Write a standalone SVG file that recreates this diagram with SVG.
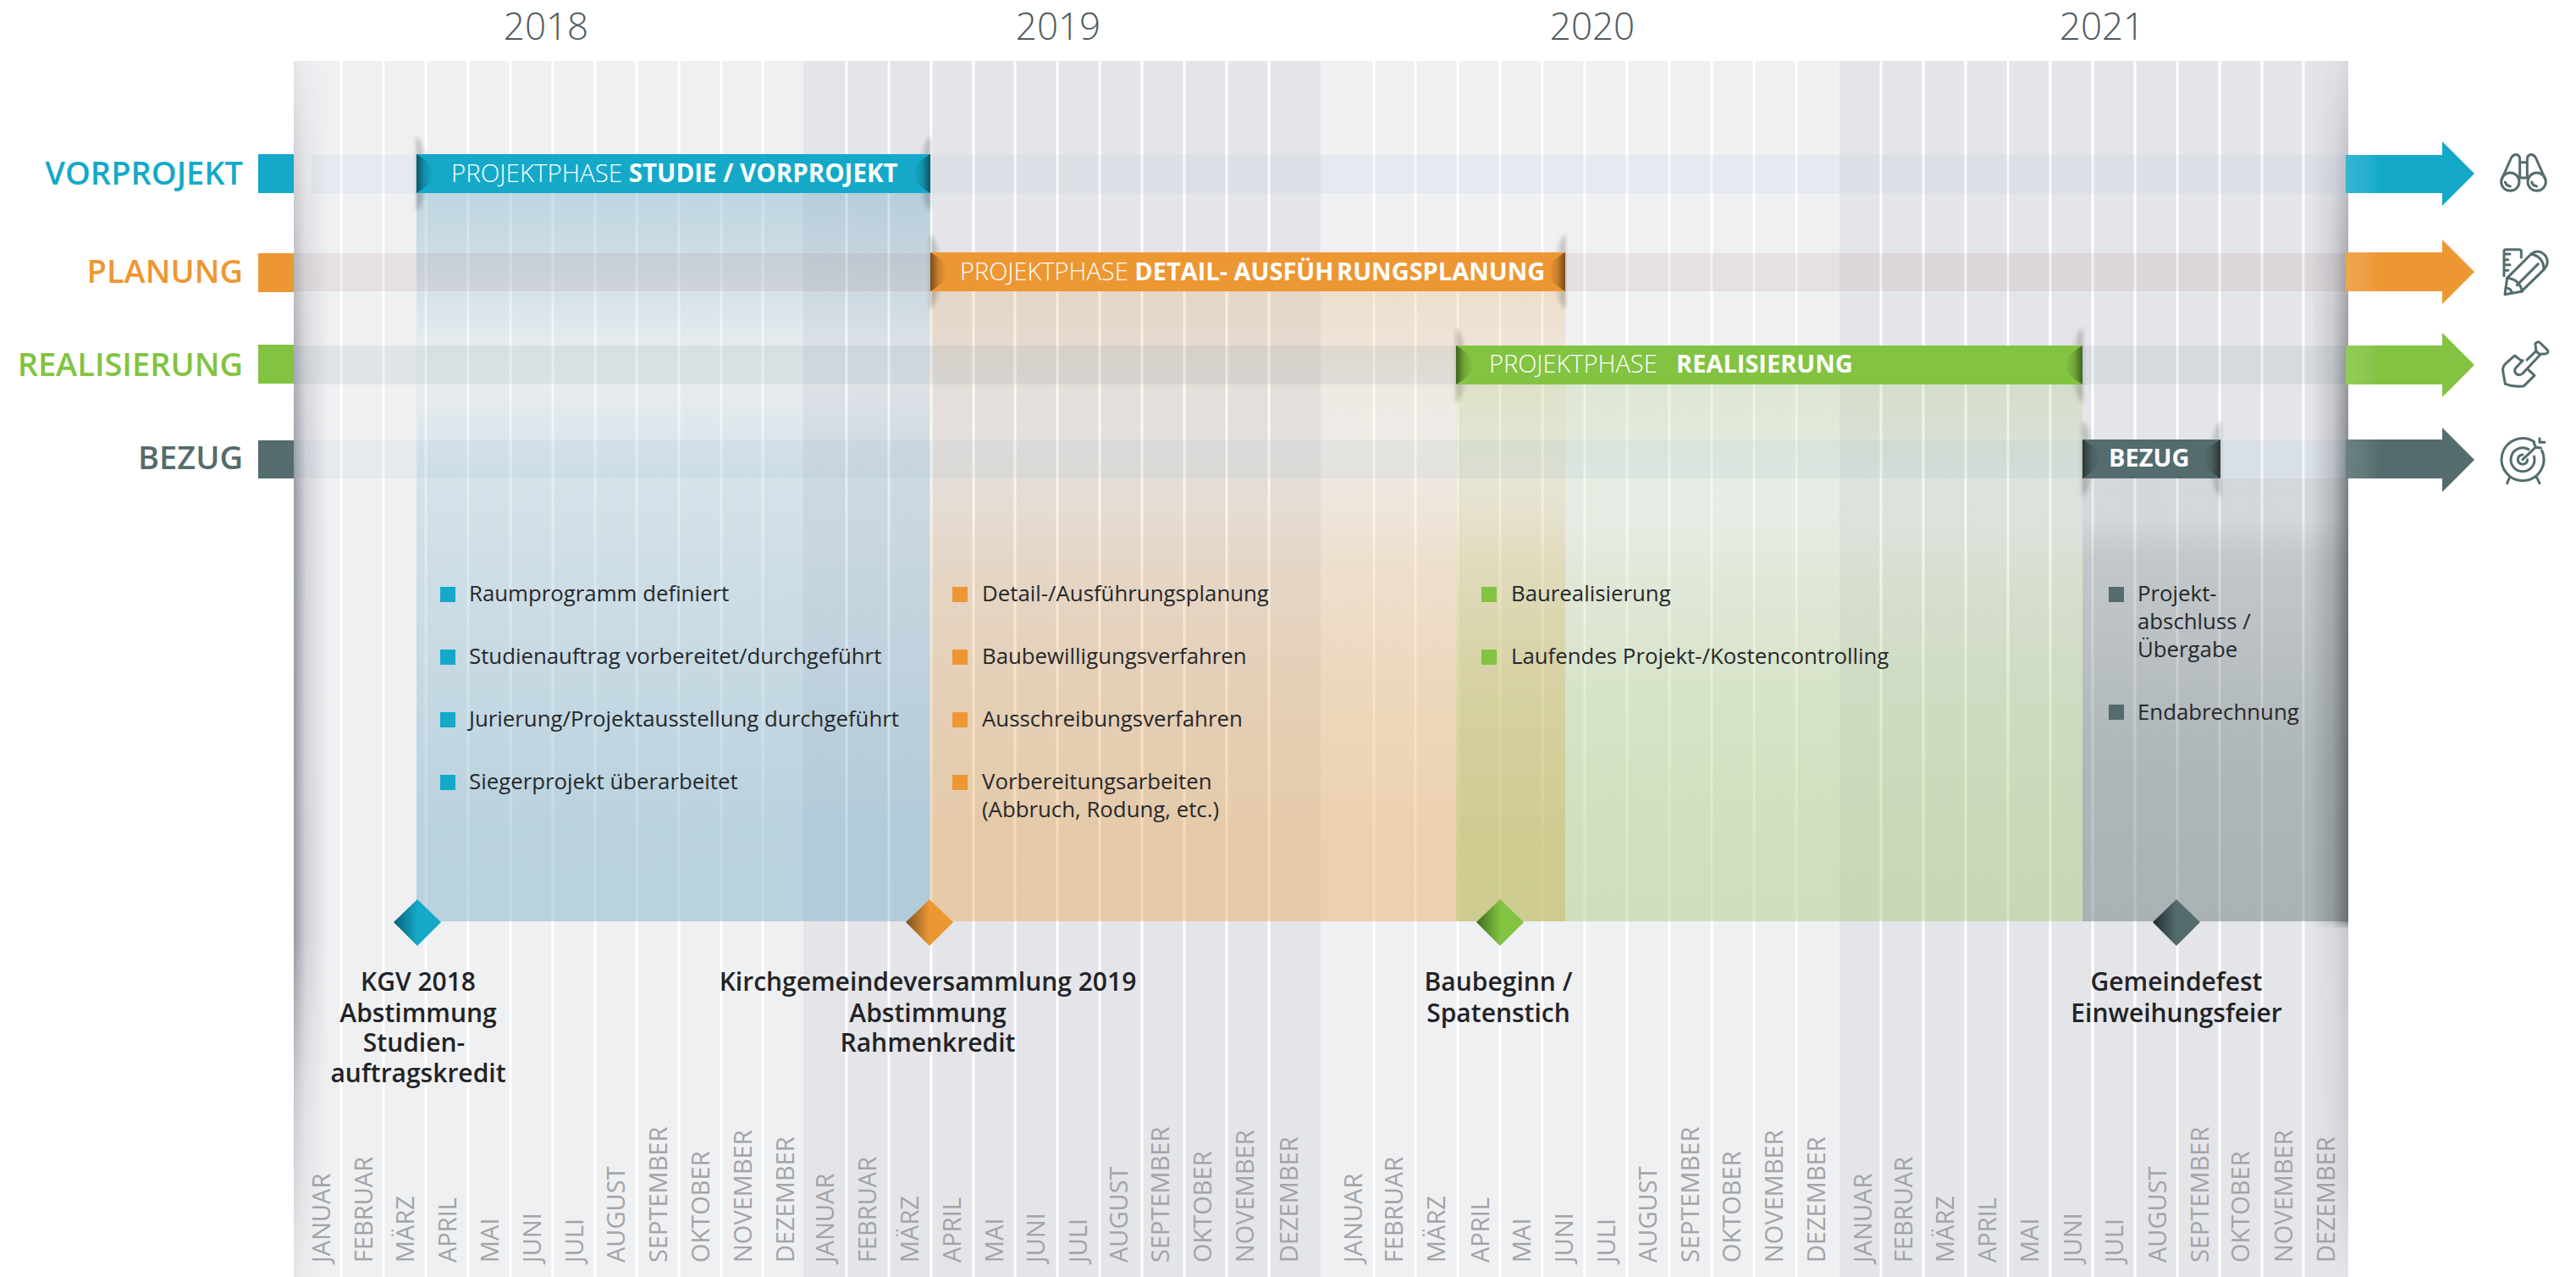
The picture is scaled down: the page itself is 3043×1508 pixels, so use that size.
<svg xmlns="http://www.w3.org/2000/svg" width="3043" height="1508" viewBox="0 0 3043 1508">
<style>
text{font-family:"Open Sans","Noto Sans","Liberation Sans",sans-serif}
.year{font-size:44px;font-weight:300;fill:#505b5e;text-anchor:middle}
.rl{font-size:38px;font-weight:600;text-anchor:end}
.bt{font-size:29px;font-weight:300;fill:#fff}
.bt tspan{font-weight:700}
.li{font-size:25.8px;fill:#26282b}
.ms{font-size:30px;font-weight:600;fill:#222326;text-anchor:middle}
.mo{font-size:29px;fill:#a3a4a8}
.gl{stroke:#fff;stroke-width:3;fill:none}
.ic{fill:none;stroke:#546c6d;stroke-width:9;stroke-linecap:round;stroke-linejoin:round}
.blue{fill:#14a9c9}.orange{fill:#ed9733}.green{fill:#82c341}.dark{fill:#546c6d}
.so{filter:url(#soft);opacity:.55}
</style>
<defs>
<filter id="soft" x="-100%" y="-20%" width="300%" height="140%"><feGaussianBlur stdDeviation="2.500"/></filter>
<linearGradient id="aBlue" gradientUnits="userSpaceOnUse" x1="0" y1="228" x2="0" y2="1088">
<stop offset="0" stop-color="#5fa0bd" stop-opacity=".33"/><stop offset=".08" stop-color="#5fa0bd" stop-opacity=".25"/><stop offset=".14" stop-color="#5fa0bd" stop-opacity=".17"/><stop offset=".2" stop-color="#5fa0bd" stop-opacity=".08"/><stop offset=".26" stop-color="#5fa0bd" stop-opacity=".05"/><stop offset=".34" stop-color="#5fa0bd" stop-opacity=".13"/><stop offset=".42" stop-color="#5fa0bd" stop-opacity=".19"/><stop offset=".5" stop-color="#5fa0bd" stop-opacity=".22"/><stop offset=".87" stop-color="#5fa0bd" stop-opacity=".37"/><stop offset="1" stop-color="#5fa0bd" stop-opacity=".38"/>
</linearGradient>
<linearGradient id="aOrange" gradientUnits="userSpaceOnUse" x1="0" y1="344" x2="0" y2="1088">
<stop offset="0" stop-color="#e79b3a" stop-opacity=".2"/><stop offset=".08" stop-color="#e79b3a" stop-opacity=".15"/><stop offset=".16" stop-color="#e79b3a" stop-opacity=".08"/><stop offset=".22" stop-color="#e79b3a" stop-opacity=".07"/><stop offset=".3" stop-color="#e79b3a" stop-opacity=".1"/><stop offset=".35" stop-color="#e79b3a" stop-opacity=".13"/><stop offset=".42" stop-color="#e79b3a" stop-opacity=".19"/><stop offset=".61" stop-color="#e79b3a" stop-opacity=".28"/><stop offset=".88" stop-color="#e79b3a" stop-opacity=".37"/><stop offset="1" stop-color="#e79b3a" stop-opacity=".37"/>
</linearGradient>
<linearGradient id="aGreen" gradientUnits="userSpaceOnUse" x1="0" y1="454" x2="0" y2="1088">
<stop offset="0" stop-color="#99c25d" stop-opacity=".2"/><stop offset=".1" stop-color="#99c25d" stop-opacity=".15"/><stop offset=".175" stop-color="#99c25d" stop-opacity=".1"/><stop offset=".26" stop-color="#99c25d" stop-opacity=".1"/><stop offset=".37" stop-color="#99c25d" stop-opacity=".18"/><stop offset=".55" stop-color="#99c25d" stop-opacity=".27"/><stop offset=".86" stop-color="#99c25d" stop-opacity=".36"/><stop offset="1" stop-color="#99c25d" stop-opacity=".37"/>
</linearGradient>
<linearGradient id="aDark" gradientUnits="userSpaceOnUse" x1="0" y1="565" x2="0" y2="1088">
<stop offset="0" stop-color="#5c6e70" stop-opacity=".12"/><stop offset=".09" stop-color="#5c6e70" stop-opacity=".12"/><stop offset=".18" stop-color="#5c6e70" stop-opacity=".25"/><stop offset=".64" stop-color="#5c6e70" stop-opacity=".39"/><stop offset="1" stop-color="#5c6e70" stop-opacity=".43"/>
</linearGradient>
<linearGradient id="shL"><stop offset="0" stop-color="#3c4150" stop-opacity=".5"/><stop offset=".35" stop-color="#3c4150" stop-opacity=".18"/><stop offset="1" stop-color="#3c4150" stop-opacity="0"/></linearGradient>
<linearGradient id="shR"><stop offset="0" stop-color="#30343a" stop-opacity="0"/><stop offset=".6" stop-color="#30343a" stop-opacity=".2"/><stop offset="1" stop-color="#30343a" stop-opacity=".55"/></linearGradient>
<linearGradient id="vL" gradientUnits="userSpaceOnUse" x1="0" y1="72" x2="0" y2="1508"><stop offset="0" stop-color="#fff" stop-opacity=".1"/><stop offset=".1" stop-color="#fff" stop-opacity=".4"/><stop offset=".35" stop-color="#fff" stop-opacity=".95"/><stop offset=".72" stop-color="#fff" stop-opacity="1"/><stop offset=".85" stop-color="#fff" stop-opacity=".45"/><stop offset="1" stop-color="#fff" stop-opacity=".1"/></linearGradient>
<linearGradient id="vR" gradientUnits="userSpaceOnUse" x1="0" y1="72" x2="0" y2="1508"><stop offset="0" stop-color="#fff" stop-opacity=".1"/><stop offset=".16" stop-color="#fff" stop-opacity=".6"/><stop offset=".36" stop-color="#fff" stop-opacity="1"/><stop offset=".708" stop-color="#fff" stop-opacity="1"/><stop offset=".714" stop-color="#fff" stop-opacity=".3"/><stop offset=".92" stop-color="#fff" stop-opacity=".2"/><stop offset="1" stop-color="#fff" stop-opacity="0"/></linearGradient>
<mask id="mL" maskUnits="userSpaceOnUse" x="340" y="60" width="60" height="1448"><rect x="340" y="60" width="60" height="1448" fill="url(#vL)"/></mask>
<mask id="mR" maskUnits="userSpaceOnUse" x="2720" y="60" width="60" height="1448"><rect x="2720" y="60" width="60" height="1448" fill="url(#vR)"/></mask>
<linearGradient id="lensL"><stop offset="0" stop-color="#000" stop-opacity=".5"/><stop offset=".5" stop-color="#000" stop-opacity=".14"/><stop offset="1" stop-color="#000" stop-opacity="0"/></linearGradient>
<linearGradient id="lensR"><stop offset="0" stop-color="#000" stop-opacity="0"/><stop offset=".5" stop-color="#000" stop-opacity=".14"/><stop offset="1" stop-color="#000" stop-opacity=".5"/></linearGradient>
<linearGradient id="sheen"><stop offset="0" stop-color="#fff" stop-opacity=".14"/><stop offset=".6" stop-color="#fff" stop-opacity=".08"/><stop offset="1" stop-color="#fff" stop-opacity="0"/></linearGradient>
<linearGradient id="dBlue"><stop offset="0" stop-color="#075f74"/><stop offset=".5" stop-color="#14a9c9"/></linearGradient>
<linearGradient id="dOrange"><stop offset="0" stop-color="#7d5120"/><stop offset=".5" stop-color="#ed9733"/></linearGradient>
<linearGradient id="dGreen"><stop offset="0" stop-color="#3a6a22"/><stop offset=".5" stop-color="#82c341"/></linearGradient>
<linearGradient id="dDark"><stop offset="0" stop-color="#1f2d30"/><stop offset=".5" stop-color="#546c6d"/></linearGradient>
</defs>
<rect width="3043" height="1508" fill="#fff"/>
<g id="years">
<text class="year" x="645" y="47">2018</text><text class="year" x="1250" y="47">2019</text><text class="year" x="1881" y="47">2020</text><text class="year" x="2483" y="47">2021</text>
</g>
<g id="panel">
<rect x="347" y="72" width="602" height="1436" fill="#eff0f2"/>
<rect x="949" y="72" width="611" height="1436" fill="#e4e5e9"/>
<rect x="1560" y="72" width="613" height="1436" fill="#eff0f2"/>
<rect x="2173" y="72" width="601" height="1436" fill="#e4e5e9"/>
<path class="gl" d="M403,72V1508M453,72V1508M503,72V1508M553,72V1508M603,72V1508M653,72V1508M703,72V1508M752,72V1508M802,72V1508M852,72V1508M901,72V1508M1000,72V1508M1050,72V1508M1100,72V1508M1150,72V1508M1199,72V1508M1249,72V1508M1299,72V1508M1349,72V1508M1399,72V1508M1449,72V1508M1499,72V1508M1623,72V1508M1672,72V1508M1722,72V1508M1772,72V1508M1822,72V1508M1872,72V1508M1922,72V1508M1972,72V1508M2022,72V1508M2072,72V1508M2122,72V1508M2222,72V1508M2272,72V1508M2322,72V1508M2372,72V1508M2422,72V1508M2472,72V1508M2522,72V1508M2572,72V1508M2622,72V1508M2672,72V1508M2721,72V1508"/>
</g>
<g id="months">
<text class="mo" transform="translate(390,1491) rotate(-90)">JANUAR</text>
<text class="mo" transform="translate(440,1491) rotate(-90)">FEBRUAR</text>
<text class="mo" transform="translate(489,1491) rotate(-90)">MÄRZ</text>
<text class="mo" transform="translate(539,1491) rotate(-90)">APRIL</text>
<text class="mo" transform="translate(589,1491) rotate(-90)">MAI</text>
<text class="mo" transform="translate(639,1491) rotate(-90)">JUNI</text>
<text class="mo" transform="translate(689,1491) rotate(-90)">JULI</text>
<text class="mo" transform="translate(738,1491) rotate(-90)">AUGUST</text>
<text class="mo" transform="translate(788,1491) rotate(-90)">SEPTEMBER</text>
<text class="mo" transform="translate(838,1491) rotate(-90)">OKTOBER</text>
<text class="mo" transform="translate(888,1491) rotate(-90)">NOVEMBER</text>
<text class="mo" transform="translate(938,1491) rotate(-90)">DEZEMBER</text>
<text class="mo" transform="translate(985,1491) rotate(-90)">JANUAR</text>
<text class="mo" transform="translate(1035,1491) rotate(-90)">FEBRUAR</text>
<text class="mo" transform="translate(1085,1491) rotate(-90)">MÄRZ</text>
<text class="mo" transform="translate(1135,1491) rotate(-90)">APRIL</text>
<text class="mo" transform="translate(1185,1491) rotate(-90)">MAI</text>
<text class="mo" transform="translate(1234,1491) rotate(-90)">JUNI</text>
<text class="mo" transform="translate(1284,1491) rotate(-90)">JULI</text>
<text class="mo" transform="translate(1332,1491) rotate(-90)">AUGUST</text>
<text class="mo" transform="translate(1381,1491) rotate(-90)">SEPTEMBER</text>
<text class="mo" transform="translate(1431,1491) rotate(-90)">OKTOBER</text>
<text class="mo" transform="translate(1481,1491) rotate(-90)">NOVEMBER</text>
<text class="mo" transform="translate(1533,1491) rotate(-90)">DEZEMBER</text>
<text class="mo" transform="translate(1609,1491) rotate(-90)">JANUAR</text>
<text class="mo" transform="translate(1657,1491) rotate(-90)">FEBRUAR</text>
<text class="mo" transform="translate(1707,1491) rotate(-90)">MÄRZ</text>
<text class="mo" transform="translate(1759,1491) rotate(-90)">APRIL</text>
<text class="mo" transform="translate(1808,1491) rotate(-90)">MAI</text>
<text class="mo" transform="translate(1858,1491) rotate(-90)">JUNI</text>
<text class="mo" transform="translate(1908,1491) rotate(-90)">JULI</text>
<text class="mo" transform="translate(1957,1491) rotate(-90)">AUGUST</text>
<text class="mo" transform="translate(2007,1491) rotate(-90)">SEPTEMBER</text>
<text class="mo" transform="translate(2056,1491) rotate(-90)">OKTOBER</text>
<text class="mo" transform="translate(2106,1491) rotate(-90)">NOVEMBER</text>
<text class="mo" transform="translate(2156,1491) rotate(-90)">DEZEMBER</text>
<text class="mo" transform="translate(2211,1491) rotate(-90)">JANUAR</text>
<text class="mo" transform="translate(2259,1491) rotate(-90)">FEBRUAR</text>
<text class="mo" transform="translate(2308,1491) rotate(-90)">MÄRZ</text>
<text class="mo" transform="translate(2358,1491) rotate(-90)">APRIL</text>
<text class="mo" transform="translate(2408,1491) rotate(-90)">MAI</text>
<text class="mo" transform="translate(2459,1491) rotate(-90)">JUNI</text>
<text class="mo" transform="translate(2508,1491) rotate(-90)">JULI</text>
<text class="mo" transform="translate(2559,1491) rotate(-90)">AUGUST</text>
<text class="mo" transform="translate(2609,1491) rotate(-90)">SEPTEMBER</text>
<text class="mo" transform="translate(2657,1491) rotate(-90)">OKTOBER</text>
<text class="mo" transform="translate(2708,1491) rotate(-90)">NOVEMBER</text>
<text class="mo" transform="translate(2758,1491) rotate(-90)">DEZEMBER</text>
</g>
<g id="areas">
<rect x="492" y="228" width="607" height="860" fill="url(#aBlue)"/>
<rect x="1099" y="344" width="750" height="744" fill="url(#aOrange)"/>
<rect x="1720" y="454" width="740" height="634" fill="url(#aGreen)"/>
<rect x="2460" y="565" width="314" height="523" fill="url(#aDark)"/>
</g>
<g id="row-bands">
<rect x="368" y="183" width="2403" height="45" fill="#64a0c8" fill-opacity=".08"/>
<rect x="347" y="299" width="2424" height="45" fill="#94595d" fill-opacity=".1"/>
<rect x="347" y="408" width="2424" height="46" fill="#628185" fill-opacity=".1"/>
<rect x="347" y="520" width="2424" height="45" fill="#4e9fc1" fill-opacity=".07"/>
</g>
<g id="edge-shadows">
<rect x="347" y="72" width="40" height="1436" fill="url(#shL)" mask="url(#mL)"/>
<rect x="2730" y="72" width="44" height="1436" fill="url(#shR)" mask="url(#mR)"/>
</g>
<g id="connectors">
<g id="arrow-vorprojekt"><path class="blue" d="M2771,183H2885V167L2923,205L2885,243V228H2771Z"/><rect x="2771" y="183" width="40" height="45" fill="url(#sheen)"/></g>
<g id="arrow-planung"><path class="orange" d="M2771,298H2885V283L2923,321L2885,359V344H2771Z"/><rect x="2771" y="298" width="40" height="46" fill="url(#sheen)"/></g>
<g id="arrow-realisierung"><path class="green" d="M2771,408H2885V393L2923,431L2885,469V454H2771Z"/><rect x="2771" y="408" width="40" height="46" fill="url(#sheen)"/></g>
<g id="arrow-bezug"><path class="dark" d="M2771,519H2885V505L2923,543L2885,581V565H2771Z"/><rect x="2771" y="519" width="40" height="46" fill="url(#sheen)"/></g>
</g>
<g id="row-vorprojekt"><rect class="blue" x="305" y="182" width="42" height="46"/><text class="rl" x="287" y="218" fill="#14a9c9">VORPROJEKT</text></g>
<g id="row-planung"><rect class="orange" x="305" y="299" width="42" height="46"/><text class="rl" x="287" y="334" fill="#ed9733">PLANUNG</text></g>
<g id="row-realisierung"><rect class="green" x="305" y="407" width="42" height="46"/><text class="rl" x="287" y="444" fill="#82c341">REALISIERUNG</text></g>
<g id="row-bezug"><rect class="dark" x="305" y="520" width="42" height="45"/><text class="rl" x="287" y="554" fill="#546c6d">BEZUG</text></g>
<g id="phase-studie">
<path class="so" d="M492,160Q524,205 492,250Z" fill="url(#lensL)"/><path class="so" d="M1099,160Q1067,205 1099,250Z" fill="url(#lensR)"/>
<rect class="blue" x="492" y="182" width="607" height="46"/>
<path d="M492,182Q532,205 492,228Z" fill="url(#lensL)"/><path d="M1099,182Q1059,205 1099,228Z" fill="url(#lensR)"/>
<text class="bt" x="533" y="215" style="font-size:29.500px">PROJEKTPHASE <tspan>STUDIE / VORPROJEKT</tspan></text>
</g>
<g id="phase-planung">
<path class="so" d="M1099,276Q1131,321 1099,366Z" fill="url(#lensL)"/><path class="so" d="M1849,276Q1817,321 1849,366Z" fill="url(#lensR)"/>
<rect class="orange" x="1099" y="298" width="750" height="46"/>
<path d="M1099,298Q1139,321 1099,344Z" fill="url(#lensL)"/><path d="M1849,298Q1809,321 1849,344Z" fill="url(#lensR)"/>
<text class="bt" x="1134" y="331">PROJEKTPHASE <tspan>DETAIL- </tspan><tspan style="word-spacing:-4px">AUSFÜH RUNGSPLANUNG</tspan></text>
</g>
<g id="phase-realisierung">
<path class="so" d="M1720,386Q1752,431 1720,476Z" fill="url(#lensL)"/><path class="so" d="M2460,386Q2428,431 2460,476Z" fill="url(#lensR)"/>
<rect class="green" x="1720" y="408" width="740" height="46"/>
<path d="M1720,408Q1760,431 1720,454Z" fill="url(#lensL)"/><path d="M2460,408Q2420,431 2460,454Z" fill="url(#lensR)"/>
<text class="bt" x="1759" y="440">PROJEKTPHASE <tspan x="1980">REALISIERUNG</tspan></text>
</g>
<g id="phase-bezug">
<path class="so" d="M2460,497Q2492,542 2460,587Z" fill="url(#lensL)"/><path class="so" d="M2623,497Q2591,542 2623,587Z" fill="url(#lensR)"/>
<rect class="dark" x="2460" y="519" width="163" height="46"/>
<path d="M2460,519Q2500,542 2460,565Z" fill="url(#lensL)"/><path d="M2623,519Q2583,542 2623,565Z" fill="url(#lensR)"/>
<text class="bt" x="2491" y="551"><tspan>BEZUG</tspan></text>
</g>
<g id="list-vorprojekt">
<rect class="blue" x="520" y="693" width="18" height="18"/><text class="li" x="554" y="710">Raumprogramm definiert</text>
<rect class="blue" x="520" y="767" width="18" height="18"/><text class="li" x="554" y="784">Studienauftrag vorbereitet/durchgeführt</text>
<rect class="blue" x="520" y="841" width="18" height="18"/><text class="li" x="554" y="858">Jurierung/Projektausstellung durchgeführt</text>
<rect class="blue" x="520" y="915" width="18" height="18"/><text class="li" x="554" y="932">Siegerprojekt überarbeitet</text>
</g>
<g id="list-planung">
<rect class="orange" x="1125" y="693" width="18" height="18"/><text class="li" x="1160" y="710">Detail-/Ausführungsplanung</text>
<rect class="orange" x="1125" y="767" width="18" height="18"/><text class="li" x="1160" y="784">Baubewilligungsverfahren</text>
<rect class="orange" x="1125" y="841" width="18" height="18"/><text class="li" x="1160" y="858">Ausschreibungsverfahren</text>
<rect class="orange" x="1125" y="915" width="18" height="18"/><text class="li" x="1160" y="932">Vorbereitungsarbeiten</text><text class="li" x="1160" y="965">(Abbruch, Rodung, etc.)</text>
</g>
<g id="list-realisierung">
<rect class="green" x="1750" y="693" width="18" height="18"/><text class="li" x="1785" y="710">Baurealisierung</text>
<rect class="green" x="1750" y="767" width="18" height="18"/><text class="li" x="1785" y="784">Laufendes Projekt-/Kostencontrolling</text>
</g>
<g id="list-bezug">
<rect class="dark" x="2491" y="693" width="18" height="18"/><text class="li" x="2525" y="710">Projekt-</text><text class="li" x="2525" y="743">abschluss /</text><text class="li" x="2525" y="776">Übergabe</text>
<rect class="dark" x="2491" y="832" width="18" height="18"/><text class="li" x="2525" y="850">Endabrechnung</text>
</g>
<g id="milestone-kgv">
<path d="M493,1062L521,1089L493,1117L465,1089Z" fill="url(#dBlue)"/>
<text class="ms" x="494" y="1170">KGV 2018</text><text class="ms" x="494" y="1207">Abstimmung</text><text class="ms" x="489" y="1242">Studien-</text><text class="ms" x="494" y="1278">auftragskredit</text>
</g>
<g id="milestone-versammlung">
<path d="M1098,1062L1126,1089L1098,1117L1070,1089Z" fill="url(#dOrange)"/>
<text class="ms" x="1096" y="1170">Kirchgemeindeversammlung 2019</text><text class="ms" x="1096" y="1207">Abstimmung</text><text class="ms" x="1096" y="1242">Rahmenkredit</text>
</g>
<g id="milestone-baubeginn">
<path d="M1772,1062L1800,1089L1772,1117L1744,1089Z" fill="url(#dGreen)"/>
<text class="ms" x="1770" y="1170">Baubeginn /</text><text class="ms" x="1770" y="1207">Spatenstich</text>
</g>
<g id="milestone-fest">
<path d="M2571,1062L2599,1089L2571,1117L2543,1089Z" fill="url(#dDark)"/>
<text class="ms" x="2571" y="1170">Gemeindefest</text><text class="ms" x="2571" y="1207">Einweihungsfeier</text>
</g>
<g id="icon-binoculars" class="ic" transform="translate(2930,160) scale(.3333)">
<circle cx="106" cy="164" r="32"/><circle cx="200" cy="164" r="32"/>
<path d="M76,155L110,78Q118,66 130,68Q140,72 140,85V150M230,155L196,78Q188,66 176,68Q166,72 166,85V150M140,95H166M140,150H166M88,165Q92,178 106,180M182,165Q186,178 200,180"/>
</g>
<g id="icon-pencil" class="ic" transform="translate(2930,160) scale(.3333)">
<path d="M84,497V410Q84,404 90,404H138Q145,404 145,410V432M84,420H105M84,440H98M84,458H105M84,478H98"/>
<path d="M87,563L95,505L180,420Q205,400 230,425Q248,450 225,475L145,553Z"/>
<path d="M95,505Q140,510 148,553M130,530L205,455M180,420Q225,430 225,475M90,540Q108,540 112,558"/>
</g>
<g id="icon-shovel" class="ic" transform="translate(2930,385) scale(.3333)">
<path d="M148,125L122,105L88,135Q78,145 80,160L88,205Q120,218 155,212L192,175L170,155"/>
<path d="M150,122L124,150Q118,160 128,170Q140,177 150,168L178,138M165,120L198,88M178,138L212,102M195,62Q205,52 212,60L238,85Q243,95 232,98L212,100Q200,95 197,85Z"/>
</g>
<g id="icon-target" class="ic" transform="translate(2930,385) scale(.3333)">
<path d="M218,441A75,75 0 1 1 191,410M190.500,462A42,42 0 1 1 171,437M167,473A17,17 0 1 1 150,456M105,533L95,557M198,533L210,557M150,473L195,430M190,415L197,430L215,432M210,398V412H228"/>
</g>
</svg>
